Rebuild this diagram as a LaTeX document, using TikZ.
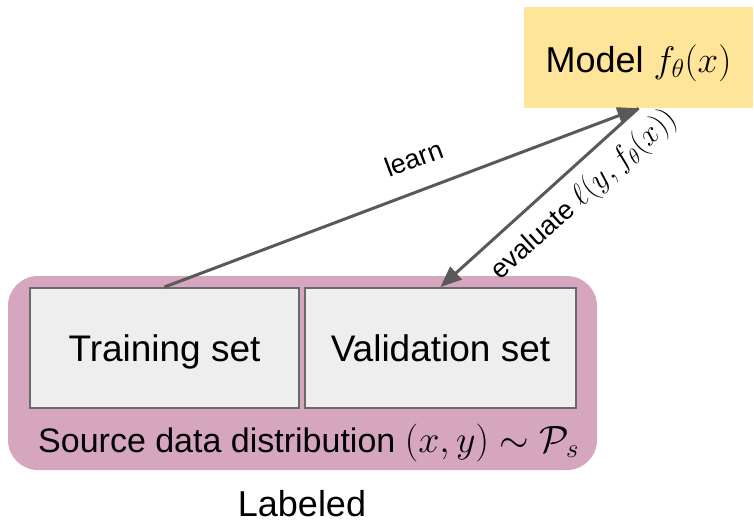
\RequirePackage{fix-cm}
\documentclass[tikz,border=0pt]{standalone}
\usepackage[no-math]{fontspec}
\setmainfont{Liberation Sans}
\usetikzlibrary{arrows.meta}
\definecolor{modelyellow}{HTML}{FFE599}
\definecolor{srcpink}{HTML}{D5A6BD}
\definecolor{setgray}{HTML}{EEEEEE}
\definecolor{edgegray}{HTML}{595959}
% inline formula set at its own size
\newcommand\sizedmath[2]{{\fontsize{#1}{#1}\selectfont$#2$}}
\begin{document}
\begin{tikzpicture}[x=1pt,y=-1pt,
  modelbox/.style={fill=modelyellow, inner sep=0pt, minimum width=229pt, minimum height=101pt,
    font=\fontsize{36}{42}\selectfont, text height=29pt, text depth=0pt},
  srcbox/.style={fill=srcpink, rounded corners=30pt, inner sep=0pt,
    minimum width=589pt, minimum height=194pt},
  setbox/.style={draw=edgegray!90, line width=2pt, fill=setgray, inner sep=0pt,
    minimum height=120pt, font=\fontsize{37}{44}\selectfont, text height=27pt, text depth=0pt},
  conn/.style={draw=edgegray, line width=3pt, -{Triangle[length=21pt, width=17pt]}},
  lbl/.style={inner sep=0pt, font=\fontsize{27}{32}\selectfont}
]
\useasboundingbox (0,0) rectangle (754,520);

% labelled source data container
\node[srcbox] (src) at (302.5,373) {};
\node[setbox, minimum width=269pt] (train) at (164.5,348) {Training set};
\node[setbox, minimum width=271pt] (valid) at (440.5,348) {Validation set};
\node[anchor=base west, inner sep=0pt, font=\fontsize{34}{40}\selectfont] (srclabel)
  at (38,452) {Source data distribution \sizedmath{38}{(x,y)\sim\mathcal{P}_s}};
\node[anchor=base, inner sep=0pt, font=\fontsize{36}{42}\selectfont] (labeled)
  at (302,516) {Labeled};

% model
\node[modelbox] (model) at (638.5,57.5) {Model \sizedmath{37}{f_\theta(x)}};

% training and evaluation flows
\draw[conn] (train.north) -- node[lbl, sloped, above=21pt, pos=0.55] {learn} (model.south);
\draw[conn] (model.south) -- node[lbl, sloped, below=11pt, pos=0.37]
  {evaluate \sizedmath{31}{\ell(y, f_\theta(x))}} (valid.north);
\end{tikzpicture}
\end{document}
